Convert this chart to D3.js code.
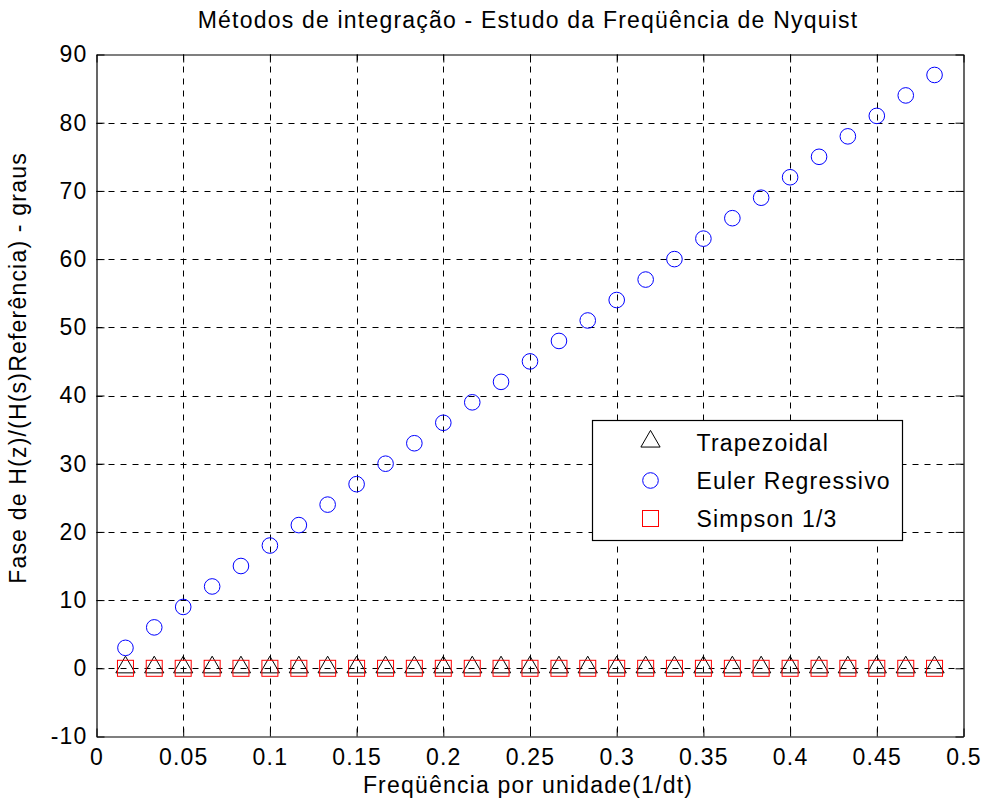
<!DOCTYPE html>
<html>
<head>
<meta charset="utf-8">
<script src="https://cdn.jsdelivr.net/npm/d3@7"></script>
<style>
  body { margin: 0; background: #fff; }
  svg text { font-family: "Liberation Sans", Arial, Helvetica, sans-serif; fill: #000; letter-spacing: 1.2px; }
</style>
</head>
<body>
<svg width="986" height="809"></svg>
<script>
// frequencies (per unit) and phase errors in degrees
var freq = [0.0167, 0.0333, 0.05, 0.0667, 0.0833, 0.1, 0.1167, 0.1333, 0.15, 0.1667,
            0.1833, 0.2, 0.2167, 0.2333, 0.25, 0.2667, 0.2833, 0.3, 0.3167, 0.3333,
            0.35, 0.3667, 0.3833, 0.4, 0.4167, 0.4333, 0.45, 0.4667, 0.4833];
var trapezoidal = [0, 0, 0, 0, 0, 0, 0, 0, 0, 0, 0, 0, 0, 0, 0, 0, 0, 0, 0, 0, 0, 0, 0, 0, 0, 0, 0, 0, 0];
var euler = [3, 6, 9, 12, 15, 18, 21, 24, 27, 30, 33, 36, 39, 42, 45, 48, 51, 54, 57, 60,
             63, 66, 69, 72, 75, 78, 81, 84, 87];
var simpson = [0, 0, 0, 0, 0, 0, 0, 0, 0, 0, 0, 0, 0, 0, 0, 0, 0, 0, 0, 0, 0, 0, 0, 0, 0, 0, 0, 0, 0];
var xTicks = [0, 0.05, 0.1, 0.15, 0.2, 0.25, 0.3, 0.35, 0.4, 0.45, 0.5];
var yTicks = [-10, 0, 10, 20, 30, 40, 50, 60, 70, 80, 90];
var legendNames = ["Trapezoidal", "Euler Regressivo", "Simpson 1/3"];

var svg = d3.select("svg");
var pLeft = 96.5, pRight = 963.5, pTop = 54.5, pBottom = 736.5;
var fs = 23;

var x = d3.scaleLinear().domain([0, 0.5]).range([pLeft, pRight]);
var y = d3.scaleLinear().domain([-10, 90]).range([pBottom, pTop]);

// grid
var grid = svg.append("g")
  .attr("stroke", "#000")
  .attr("stroke-width", 1)
  .attr("stroke-dasharray", "6,6");
grid.selectAll("line.gx")
  .data(xTicks.slice(1, -1))
  .enter().append("line")
  .attr("x1", function(d) { return Math.round(x(d)) + 0.5; })
  .attr("x2", function(d) { return Math.round(x(d)) + 0.5; })
  .attr("y1", pTop).attr("y2", pBottom);
grid.selectAll("line.gy")
  .data(yTicks.slice(1, -1))
  .enter().append("line")
  .attr("y1", function(d) { return Math.round(y(d)) + 0.5; })
  .attr("y2", function(d) { return Math.round(y(d)) + 0.5; })
  .attr("x1", pLeft).attr("x2", pRight);

// axes, ticks inward on all four sides
var tickLen = 8;
svg.append("g")
  .attr("transform", "translate(0," + pBottom + ")")
  .call(d3.axisBottom(x).tickValues(xTicks).tickSizeInner(-tickLen).tickSizeOuter(0).tickPadding(12)
    .tickFormat(function(d) { return String(+d.toFixed(2)); }))
  .call(styleAxis);
svg.append("g")
  .attr("transform", "translate(0," + pTop + ")")
  .call(d3.axisTop(x).tickValues(xTicks).tickSizeInner(-tickLen).tickSizeOuter(0).tickFormat(""))
  .call(styleAxis);
svg.append("g")
  .attr("transform", "translate(" + pLeft + ",0)")
  .call(d3.axisLeft(y).tickValues(yTicks).tickSizeInner(-tickLen).tickSizeOuter(0).tickPadding(9)
    .tickFormat(function(d) { return String(d); }))
  .call(styleAxis);
svg.append("g")
  .attr("transform", "translate(" + pRight + ",0)")
  .call(d3.axisRight(y).tickValues(yTicks).tickSizeInner(-tickLen).tickSizeOuter(0).tickFormat(""))
  .call(styleAxis);

function styleAxis(g) {
  g.select(".domain").attr("stroke", "#000").attr("stroke-width", 1.2);
  g.selectAll(".tick line").attr("stroke", "#000");
  g.selectAll("text").attr("font-size", fs).attr("font-family", null);
}

// markers
var tri = d3.symbol().type(d3.symbolTriangle).size(160);

svg.append("g").selectAll("path")
  .data(freq.map(function(f, i) { return [f, trapezoidal[i]]; }))
  .enter().append("path")
  .attr("d", tri)
  .attr("transform", function(d) { return "translate(" + x(d[0]) + "," + (y(d[1]) - 1) + ")"; })
  .attr("fill", "none").attr("stroke", "#000").attr("stroke-width", 1);

svg.append("g").selectAll("circle")
  .data(freq.map(function(f, i) { return [f, euler[i]]; }))
  .enter().append("circle")
  .attr("cx", function(d) { return x(d[0]); })
  .attr("cy", function(d) { return y(d[1]); })
  .attr("r", 7.8)
  .attr("fill", "none").attr("stroke", "#0000ff").attr("stroke-width", 1);

svg.append("g").selectAll("rect")
  .data(freq.map(function(f, i) { return [f, simpson[i]]; }))
  .enter().append("rect")
  .attr("x", function(d) { return x(d[0]) - 8; })
  .attr("y", function(d) { return y(d[1]) - 8; })
  .attr("width", 16).attr("height", 16)
  .attr("fill", "none").attr("stroke", "#ff0000").attr("stroke-width", 1);

// legend
var legend = svg.append("g").attr("transform", "translate(592.5,420.5)");
legend.append("rect")
  .attr("width", 310).attr("height", 120)
  .attr("fill", "#fff").attr("stroke", "#000").attr("stroke-width", 1.2);
var rowY = [22, 60, 98];
legend.append("path").attr("d", tri)
  .attr("transform", "translate(58," + (rowY[0] - 1) + ")")
  .attr("fill", "none").attr("stroke", "#000");
legend.append("circle").attr("cx", 58).attr("cy", rowY[1]).attr("r", 7.8)
  .attr("fill", "none").attr("stroke", "#0000ff");
legend.append("rect").attr("x", 50).attr("y", rowY[2] - 8).attr("width", 16).attr("height", 16)
  .attr("fill", "none").attr("stroke", "#ff0000");
legend.selectAll("text.lab")
  .data(legendNames)
  .enter().append("text")
  .attr("x", 104)
  .attr("y", function(d, i) { return rowY[i] + 8; })
  .attr("font-size", fs)
  .text(function(d) { return d; });

// title and labels
svg.append("text")
  .attr("x", 528).attr("y", 28)
  .attr("text-anchor", "middle").attr("font-size", fs)
  .text("Métodos de integração - Estudo da Freqüência de Nyquist");
svg.append("text")
  .attr("x", 528).attr("y", 793)
  .attr("text-anchor", "middle").attr("font-size", fs)
  .text("Freqüência por unidade(1/dt)");
svg.append("text")
  .attr("transform", "translate(26,368) rotate(-90)")
  .attr("text-anchor", "middle").attr("font-size", fs)
  .text("Fase de H(z)/(H(s)Referência) - graus");
</script>
</body>
</html>
